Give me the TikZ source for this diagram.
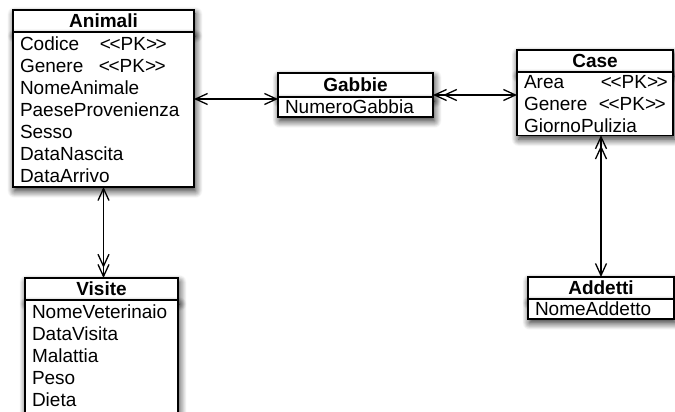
\documentclass[tikz,border=0pt]{standalone}
\usepackage{fontspec}
\setmainfont{Liberation Sans}
\usetikzlibrary{positioning,arrows.meta,shadows.blur}

\newcommand{\pk}[2][78pt]{\makebox[#1][l]{#2}<\kern-1.5pt<PK>\kern-1.5pt>}

\tikzset{
  ombra/.style={blur shadow={shadow xshift=1.5pt, shadow yshift=-4pt,
      shadow blur radius=7pt, shadow blur steps=10, shadow opacity=85}},
  titolo/.style={draw, line width=1.4pt, fill=white, anchor=north west,
      outer sep=0pt, inner sep=0pt, minimum height=22pt, ombra,
      font=\bfseries\fontsize{19}{22}\selectfont},
  attributi/.style={draw, line width=1.4pt, fill=white, outer sep=0pt,
      inner xsep=7pt, inner ysep=4.5pt, align=left, ombra,
      font=\fontsize{19}{22}\selectfont},
  freccia/.style={line width=1.3pt},
  punta/.tip={Straight Barb[length=12pt,width=11pt]},
  doppia/.tip={Straight Barb[length=12pt,width=11pt,sep=-4pt]Straight Barb[length=12pt,width=11pt]}
}

\begin{document}
\begin{tikzpicture}[x=1pt, y=-1pt]
    \useasboundingbox (0, 0) rectangle (675, 412);
    \clip (0, 0) rectangle (675, 412);

    \node[titolo, minimum width=181pt] (animali) at (13, 10){Animali};
    \node[attributi, text width=167pt, below right=0pt and 0pt of animali.south west] (animali-att){%
        \pk[80pt]{Codice}\\ \pk[79pt]{Genere}\\ NomeAnimale\\ PaeseProvenienza\\ Sesso\\ DataNascita\\ DataArrivo};

    \node[titolo, minimum width=155pt, minimum height=24pt] (gabbie) at (278, 73){Gabbie};
    \node[attributi, text width=141pt, inner ysep=3pt, below right=0pt and 0pt of gabbie.south west] (gabbie-att){NumeroGabbia};

    \node[titolo, minimum width=156pt] (case) at (517, 50){Case};
    \node[attributi, text width=142pt, inner ysep=3pt, below right=0pt and 0pt of case.south west] (case-att){%
        \pk[77pt]{Area}\\ \pk[75pt]{Genere}\\ GiornoPulizia};

    \node[titolo, minimum width=153pt] (visite) at (25, 278){Visite};
    \node[attributi, text width=139pt, below right=0pt and 0pt of visite.south west] (visite-att){%
        NomeVeterinaio\\ DataVisita\\ Malattia\\ Peso\\ Dieta\\ \phantom{X}};

    \node[titolo, minimum width=146pt] (addetti) at (528, 277){Addetti};
    \node[attributi, text width=132pt, inner ysep=3pt, below right=0pt and 0pt of addetti.south west] (addetti-att){NomeAddetto};

    \draw[freccia, punta-punta] ([yshift=-2pt]gabbie.south west -| animali-att.east) -- ([yshift=-2pt]gabbie.south west);
    \draw[freccia, doppia-punta] ([yshift=2pt]gabbie.south east) -- ([yshift=2pt]gabbie.south east -| case-att.west);
    \draw[freccia, punta-doppia] (animali-att.south) -- (animali-att.south |- visite.north);
    \draw[freccia, doppia-punta] (addetti.north |- case-att.south) -- (addetti.north);

\end{tikzpicture}
\end{document}
